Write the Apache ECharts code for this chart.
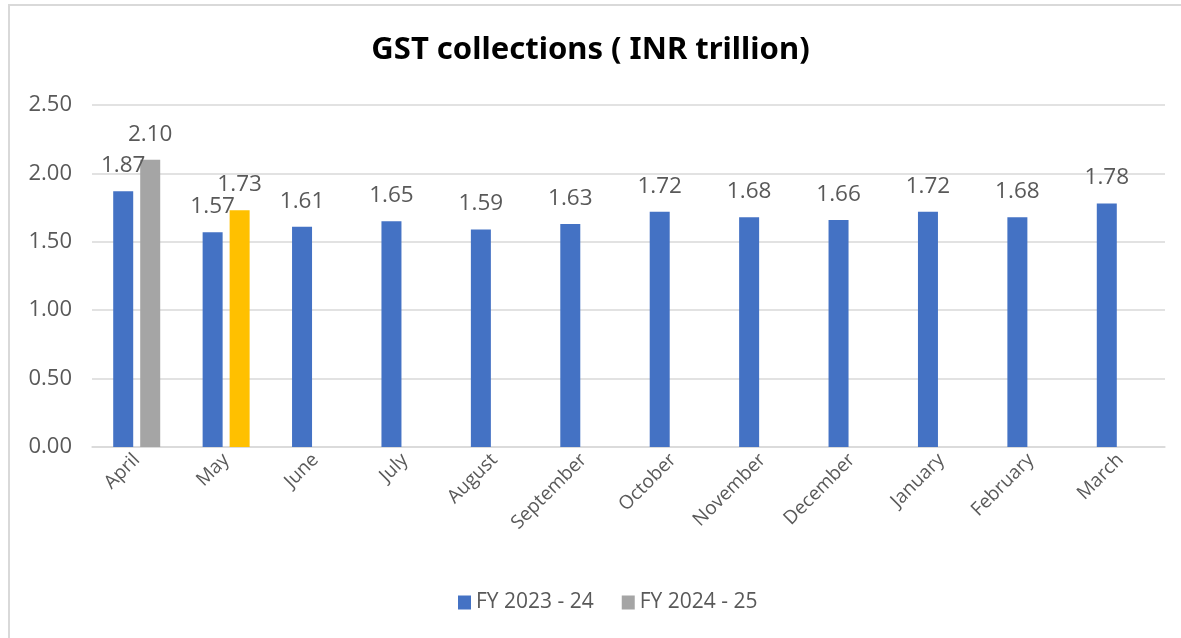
<!DOCTYPE html>
<html>
<head>
<meta charset="utf-8">
<script src="https://cdn.jsdelivr.net/npm/echarts@6/dist/echarts.min.js"></script>
<style>
html,body{margin:0;padding:0;background:#fff;}
#frame{position:absolute;left:8px;top:4px;width:1180px;height:640px;border-left:2px solid #d9d9d9;border-top:2px solid #d9d9d9;box-sizing:border-box;}
#chart{position:absolute;left:0;top:0;width:1181px;height:638px;}
</style>
</head>
<body>
<div id="frame"></div>
<div id="chart"></div>
<script>
var categories = ['April','May','June','July','August','September','October','November','December','January','February','March'];
var fy2324 = [1.87,1.57,1.61,1.65,1.59,1.63,1.72,1.68,1.66,1.72,1.68,1.78];
var fy2425 = [2.10,1.73,null,null,null,null,null,null,null,null,null,null];
var seriesNames = ['FY 2023 - 24','FY 2024 - 25'];
var yTicks = {min:0, max:2.5, interval:0.5};

var fy2425Colors = ['#A5A5A5','#FFC000'];
var fy2425Data = fy2425.map(function(v,i){
  if (v === null) return null;
  return {value:v, itemStyle:{color: fy2425Colors[i] || '#A5A5A5'}};
});

var chart = echarts.init(document.getElementById('chart'));
var labelStyle = {show:true, position:'top', distance:14, color:'#595959', fontSize:22.5, fontFamily:'Open Sans', formatter:function(p){return Number(p.value).toFixed(2);}};
chart.setOption({
  animation:false,
  title:{text:'GST collections ( INR trillion)', left:'center', top:30,
    textStyle:{fontFamily:'Noto Sans', fontWeight:'bold', fontSize:31, color:'#000'}},
  grid:{left:92, right:16, top:105, bottom:191, containLabel:false},
  legend:{bottom:20, left:453, itemWidth:13, itemHeight:14, itemGap:28,
    textStyle:{color:'#595959', fontSize:21, fontFamily:'Open Sans'},
    data:[{name:seriesNames[0], icon:'rect'},{name:seriesNames[1], icon:'rect'}]},
  xAxis:{type:'category', data:categories,
    axisLine:{lineStyle:{color:'#d9d9d9', width:1.5}}, axisTick:{show:false},
    axisLabel:{rotate:45, color:'#595959', fontSize:19, fontFamily:'Open Sans', margin:10, interval:0}},
  yAxis:{type:'value', min:yTicks.min, max:yTicks.max, interval:yTicks.interval,
    axisLine:{show:false}, axisTick:{show:false},
    splitLine:{lineStyle:{color:'#d9d9d9', width:1.5}},
    axisLabel:{color:'#595959', fontSize:22, fontFamily:'Open Sans', margin:20, formatter:function(v){return v.toFixed(2);}}},
  series:[
    {name:seriesNames[0], type:'bar', data:fy2324, barWidth:20, barGap:'35%', itemStyle:{color:'#4472C4'}, label:labelStyle},
    {name:seriesNames[1], type:'bar', data:fy2425Data, barWidth:20, itemStyle:{color:'#A5A5A5'}, label:labelStyle}
  ]
});
</script>
</body>
</html>
